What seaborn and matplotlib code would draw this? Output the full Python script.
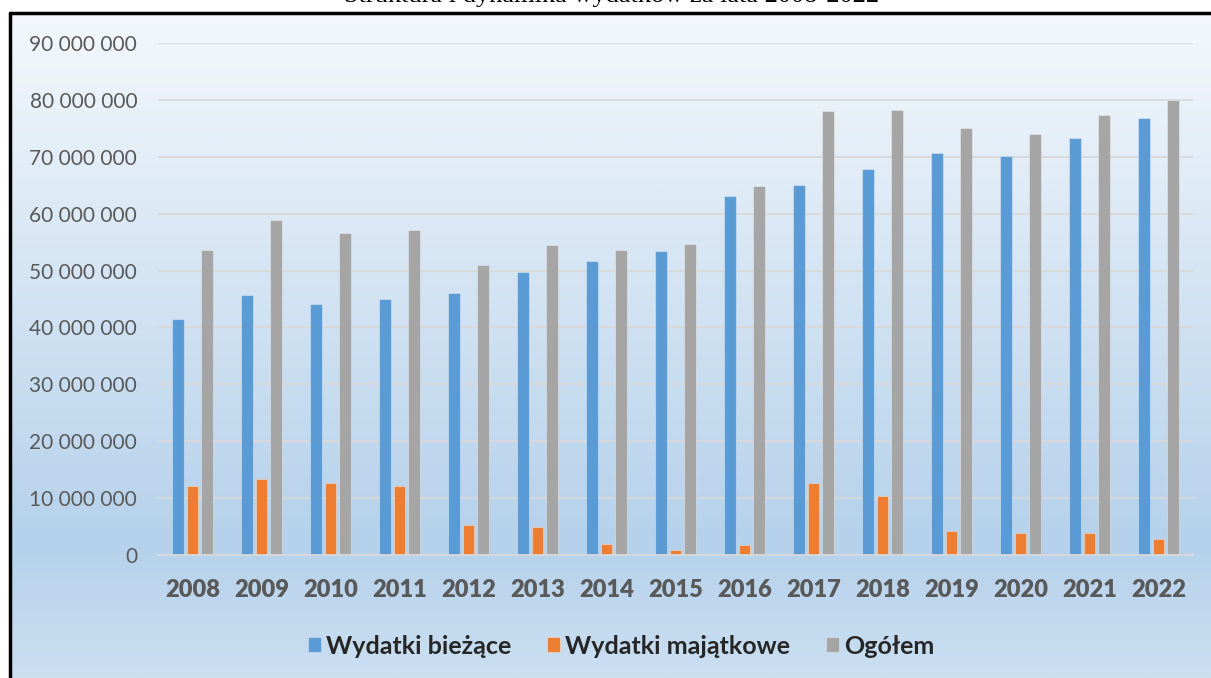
import matplotlib
matplotlib.use("Agg")
import matplotlib.pyplot as plt
import matplotlib.colors as mcolors
from matplotlib.lines import Line2D
import seaborn as sns
import numpy as np
import pandas as pd

# dane
lata = [str(r) for r in range(2008, 2023)]
wydatki_biezace = [41.4e6, 45.7e6, 44.1e6, 45.0e6, 46.0e6, 49.8e6, 51.6e6, 53.4e6,
                   63.1e6, 65.1e6, 67.8e6, 70.6e6, 70.1e6, 73.3e6, 76.9e6]
wydatki_majatkowe = [12.2e6, 13.3e6, 12.6e6, 12.2e6, 5.2e6, 5.0e6, 1.9e6, 0.9e6,
                     1.8e6, 12.6e6, 10.3e6, 4.2e6, 3.8e6, 3.8e6, 2.8e6]
ogolem = [53.6e6, 58.8e6, 56.6e6, 57.2e6, 50.9e6, 54.5e6, 53.6e6, 54.6e6,
          64.9e6, 78.1e6, 78.2e6, 75.1e6, 74.0e6, 77.4e6, 80.0e6]
serie = ["Wydatki bieżące", "Wydatki majątkowe", "Ogółem"]
kolory = ["#5B9BD5", "#ED7D31", "#A5A5A5"]
yticks = np.arange(0, 90e6 + 1, 10e6)

df = pd.DataFrame({
    "rok": lata * 3,
    "wartosc": wydatki_biezace + wydatki_majatkowe + ogolem,
    "seria": [s for s in serie for _ in lata],
})

sns.set_theme(style="white")
plt.rcParams["font.family"] = ["Lato", "DejaVu Sans"]

W, H = 1211, 678
fig = plt.figure(figsize=(W / 100, H / 100), dpi=100)
fig.patch.set_facecolor("white")

# tlo z gradientem (wewnatrz ramki)
bg = fig.add_axes([11 / W, 0, 1 - 11 / W, 1 - 13 / H], zorder=-10)
stops = [(0.0, (244, 248, 252)), (0.80, (181, 209, 235)), (1.0, (203, 223, 241))]
cmap = mcolors.LinearSegmentedColormap.from_list(
    "tlo", [(p, tuple(c / 255 for c in col)) for p, col in stops])
grad = np.linspace(0, 1, 400).reshape(-1, 1)
bg.imshow(grad, aspect="auto", cmap=cmap, extent=[0, 1, 0, 1], origin="upper")
bg.set_axis_off()

# ramka
fig.add_artist(Line2D([10.5 / W, 10.5 / W], [0, 1 - 13 / H], color="black", lw=2.5))
fig.add_artist(Line2D([10 / W, 1], [1 - 13 / H, 1 - 13 / H], color="black", lw=2.5))

# tytul (uciety u gory, jak na oryginale)
fig.text(0.505, 1 - 2 / H, "Struktura i dynamika wydatków za lata 2008-2022",
         ha="center", va="baseline", fontsize=19, family="Liberation Serif",
         color="black")

ax = fig.add_axes([158 / W, 1 - 555 / H, (1193 - 158) / W, (555 - 43) / H])
ax.set_facecolor("none")
sns.barplot(data=df, x="rok", y="wartosc", hue="seria", palette=kolory,
            width=0.62, gap=0.18, ax=ax, saturation=1,
            edgecolor=(1, 1, 1, 0.35), linewidth=0.8, legend=True)

ax.set_ylim(0, 90e6)
ax.set_yticks(yticks)
ax.set_yticklabels([f"{int(v):,}".replace(",", " ") for v in yticks])
ax.set_xlabel("")
ax.set_ylabel("")
ax.grid(axis="y", color="#d9d9d9", lw=1.3)
ax.set_axisbelow(True)
for s in ["top", "left", "right"]:
    ax.spines[s].set_visible(False)
ax.spines["bottom"].set_color("#d9d9d9")
ax.spines["bottom"].set_linewidth(1.3)
ax.tick_params(axis="y", length=0, pad=15, labelsize=15, labelcolor="#595959")
ax.tick_params(axis="x", length=0, pad=17, labelsize=17, labelcolor="#595959")
for t in ax.get_xticklabels():
    t.set_fontweight("heavy")

handles, labels = ax.get_legend_handles_labels()
ax.get_legend().remove()
fig.legend(handles, labels, loc="center", bbox_to_anchor=(0.513, 1 - 646 / H),
           ncol=3, frameon=False, handlelength=0.5, handleheight=0.55,
           handletextpad=0.2, columnspacing=1.45,
           prop={"size": 18, "weight": "bold"})

fig.savefig("out.png", dpi=100)
